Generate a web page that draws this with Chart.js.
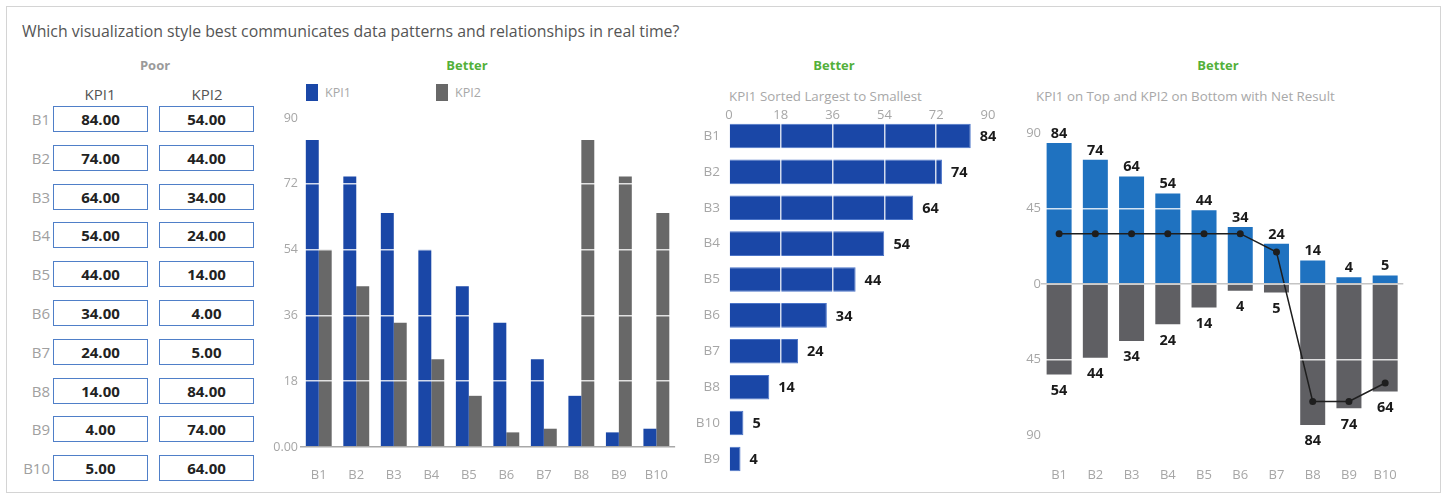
<!DOCTYPE html>
<html>
<head>
<meta charset="utf-8">
<script src="https://cdn.jsdelivr.net/npm/chart.js@4.4.1/dist/chart.umd.min.js"></script>
<style>
  body { margin: 0; background: #fff; font-family: 'Open Sans', 'Noto Sans', sans-serif; }
  #page { position: relative; width: 1447px; height: 495px; overflow: hidden; }
  #frame { position: absolute; left: 6px; top: 6px; width: 1433px; height: 485px; border: 1px solid #d4d4d4; }
  .txt { position: absolute; white-space: nowrap; }
  #title { left: 22px; top: 20px; font-size: 15.85px; color: #555; }
  .head { font-size: 13px; font-weight: bold; transform: translateX(-50%); top: 56px; }
  .poor { color: #9a9a9a; }
  .better { color: #52b03a; }
  .sub { font-size: 13.3px; color: #a8a8a8; top: 87px; }
  .cell { position: absolute; width: 93px; height: 24px; border: 1.5px solid #4f7fc8; font-size: 15px; font-weight: bold; color: #222; text-align: center; line-height: 24px; }
  .rowlab { position: absolute; font-size: 15px; color: #a0a0a0; text-align: right; width: 40px; left: 10px; }
  .colhead { position: absolute; font-size: 15px; color: #555; transform: translateX(-50%); top: 84px; }
  .leg { position: absolute; top: 84px; font-size: 12.5px; color: #a8a8a8; }
  .leg span { display: inline-block; width: 12px; height: 17px; vertical-align: -4px; margin-right: 7px; }
  canvas { position: absolute; }
</style>
</head>
<body>
<div id="page">
  <div id="frame"></div>
  <div class="txt" id="title">Which visualization style best communicates data patterns and relationships in real time?</div>
  <div class="txt head poor" style="left:155px">Poor</div>
  <div class="txt head better" style="left:467px">Better</div>
  <div class="txt head better" style="left:834px">Better</div>
  <div class="txt head better" style="left:1218px">Better</div>
  <div class="txt sub" style="left:729px">KPI1 Sorted Largest to Smallest</div>
  <div class="txt sub" style="left:1036px">KPI1 on Top and KPI2 on Bottom with Net Result</div>
  <div id="table"></div>
  <div id="legend"></div>
  <canvas id="groupChart" width="418" height="382" style="left:270px;top:108px"></canvas>
  <canvas id="sortedChart" width="320" height="394" style="left:690px;top:100px"></canvas>
  <canvas id="netChart" width="429" height="380" style="left:1000px;top:110px"></canvas>
</div>
<script>
const categories = ['B1', 'B2', 'B3', 'B4', 'B5', 'B6', 'B7', 'B8', 'B9', 'B10'];
const kpi1 = [84, 74, 64, 54, 44, 34, 24, 14, 4, 5];
const kpi2 = [54, 44, 34, 24, 14, 4, 5, 84, 74, 64];
const sortedCategories = ['B1', 'B2', 'B3', 'B4', 'B5', 'B6', 'B7', 'B8', 'B10', 'B9'];
const sortedKpi1 = [84, 74, 64, 54, 44, 34, 24, 14, 5, 4];
const netResult = [30, 30, 30, 30, 30, 30, 19, -70, -70, -59];
const valueTicks = [0, 18, 36, 54, 72, 90];
const netTicks = [-90, -45, 0, 45, 90];

const DARK_BLUE = '#1a47a7';
const GRAY = '#686868';
const NET_BLUE = '#1f72c0';
const NET_GRAY = '#5f5f63';
const TICK = '#a6a6a6';
const WHITE_GRID = 'rgba(255,255,255,0.8)';

Chart.defaults.font.family = "'Open Sans', 'Noto Sans', sans-serif";
Chart.defaults.color = TICK;

// table (Poor)
const table = document.getElementById('table');
let html = '';
html += '<div class="colhead" style="left:100px">KPI1</div>';
html += '<div class="colhead" style="left:207px">KPI2</div>';
for (let i = 0; i < categories.length; i++) {
  const top = 106 + i * 38.8;
  html += `<div class="rowlab" style="top:${top + 3}px">${categories[i]}</div>`;
  html += `<div class="cell" style="left:53px;top:${top}px">${kpi1[i].toFixed(2)}</div>`;
  html += `<div class="cell" style="left:159px;top:${top}px">${kpi2[i].toFixed(2)}</div>`;
}
table.innerHTML = html;

// legend for grouped chart
document.getElementById('legend').innerHTML =
  `<div class="leg" style="left:306px"><span style="background:${DARK_BLUE}"></span>KPI1</div>` +
  `<div class="leg" style="left:436px"><span style="background:${GRAY}"></span>KPI2</div>`;

// value labels on top of everything
const valueLabels = {
  id: 'valueLabels',
  afterDraw(chart, args, opts) {
    const ctx = chart.ctx;
    ctx.save();
    ctx.font = 'bold 14.5px "Open Sans", sans-serif';
    ctx.fillStyle = '#1a1a1a';
    (opts.sets || []).forEach(set => {
      const meta = chart.getDatasetMeta(set.index);
      meta.data.forEach((el, i) => {
        const v = Math.abs(chart.data.datasets[set.index].data[i]);
        if (set.where === 'right') {
          ctx.textAlign = 'left'; ctx.textBaseline = 'middle';
          ctx.fillText(v, el.x + 9, el.y + 1);
        } else if (set.where === 'above') {
          ctx.textAlign = 'center'; ctx.textBaseline = 'bottom';
          ctx.fillText(v, el.x, el.y - 2);
        } else {
          ctx.textAlign = 'center'; ctx.textBaseline = 'top';
          ctx.fillText(v, el.x, el.y + 9);
        }
      });
    });
    // top axis numbers sit partly inside the plot, so draw them here (tick labels get clipped)
    if (opts.topTicks) {
      const sc = chart.scales.x;
      ctx.font = '13px "Open Sans", sans-serif';
      ctx.fillStyle = TICK;
      ctx.textAlign = 'center'; ctx.textBaseline = 'middle';
      opts.topTicks.forEach(v => ctx.fillText(v, sc.getPixelForValue(v), sc.bottom - 3));
    }
    ctx.restore();
  }
};

// grouped bars
new Chart(document.getElementById('groupChart'), {
  type: 'bar',
  data: {
    labels: categories,
    datasets: [
      { label: 'KPI1', data: kpi1, backgroundColor: DARK_BLUE, categoryPercentage: 0.69, barPercentage: 1 },
      { label: 'KPI2', data: kpi2, backgroundColor: GRAY, categoryPercentage: 0.69, barPercentage: 1 }
    ]
  },
  options: {
    responsive: false,
    animation: false,
    layout: { padding: { top: 10, right: 0, bottom: 0, left: 0 } },
    plugins: { legend: { display: false }, tooltip: { enabled: false } },
    scales: {
      x: {
        grid: { display: false, drawTicks: false },
        border: { display: false },
        ticks: { color: TICK, font: { size: 13 }, padding: 20 },
        afterFit(s) { s.height = 43; }
      },
      y: {
        min: 0, max: 90,
        afterBuildTicks(s) { s.ticks = valueTicks.map(v => ({ value: v })); },
        grid: { z: 1, color: c => c.tick && c.tick.value === 0 ? '#a8a8a8' : WHITE_GRID, lineWidth: 1.5, drawTicks: false },
        border: { display: false },
        ticks: { color: TICK, font: { size: 12.5 }, padding: 2, callback: v => v === 0 ? '0.00' : v },
        afterFit(s) { s.width = 30; }
      }
    }
  }
});

// sorted horizontal bars
new Chart(document.getElementById('sortedChart'), {
  type: 'bar',
  data: {
    labels: sortedCategories,
    datasets: [
      { label: 'KPI1', data: sortedKpi1, backgroundColor: DARK_BLUE, borderColor: '#4b74c8', borderWidth: 1, categoryPercentage: 0.685, barPercentage: 1 }
    ]
  },
  options: {
    indexAxis: 'y',
    responsive: false,
    animation: false,
    layout: { padding: { top: 0, right: 22, bottom: 0, left: 0 } },
    plugins: {
      legend: { display: false }, tooltip: { enabled: false },
      valueLabels: { sets: [{ index: 0, where: 'right' }], topTicks: valueTicks }
    },
    scales: {
      x: {
        position: 'top', min: 0, max: 90,
        afterBuildTicks(s) { s.ticks = valueTicks.map(v => ({ value: v })); },
        grid: { z: 1, color: c => c.tick && c.tick.value === 0 ? 'rgba(0,0,0,0)' : WHITE_GRID, lineWidth: 1.5, drawTicks: false },
        border: { display: false },
        ticks: { display: false },
        afterFit(s) { s.height = 18; }
      },
      y: {
        grid: { display: false, drawTicks: false },
        border: { display: false },
        ticks: { color: TICK, font: { size: 13.5 }, padding: 9 },
        afterFit(s) { s.width = 39; }
      }
    }
  },
  plugins: [valueLabels]
});

// diverging bars with net result
new Chart(document.getElementById('netChart'), {
  data: {
    labels: categories,
    datasets: [
      { type: 'line', label: 'Net', data: netResult, borderColor: '#1e1e1e', borderWidth: 1.5, pointRadius: 3.5, pointBackgroundColor: '#1e1e1e', pointBorderWidth: 0, stack: 'net', order: 0 },
      { type: 'bar', label: 'KPI1', data: kpi1, backgroundColor: NET_BLUE, categoryPercentage: 0.69, barPercentage: 1, stack: 'kpi', order: 1 },
      { type: 'bar', label: 'KPI2', data: kpi2.map(v => -v), backgroundColor: NET_GRAY, categoryPercentage: 0.69, barPercentage: 1, stack: 'kpi', order: 1 }
    ]
  },
  options: {
    responsive: false,
    animation: false,
    layout: { padding: { top: 23, right: 0, bottom: 0, left: 0 } },
    plugins: {
      legend: { display: false }, tooltip: { enabled: false },
      valueLabels: { sets: [{ index: 1, where: 'above' }, { index: 2, where: 'below' }] }
    },
    scales: {
      x: {
        stacked: true,
        grid: { display: false, drawTicks: false },
        border: { display: false },
        ticks: { color: TICK, font: { size: 13 }, padding: 32 },
        afterFit(s) { s.height = 55; }
      },
      y: {
        stacked: true, min: -90, max: 90,
        afterBuildTicks(s) { s.ticks = netTicks.map(v => ({ value: v })); },
        grid: {
          z: 1,
          color: c => {
            if (!c.tick) return WHITE_GRID;
            if (c.tick.value === 0) return '#c4c4c4';
            if (Math.abs(c.tick.value) === 90) return 'rgba(0,0,0,0)';
            return WHITE_GRID;
          },
          lineWidth: 1.5, drawTicks: false
        },
        border: { display: false },
        ticks: { color: TICK, font: { size: 13 }, padding: 0, callback: v => Math.abs(v) },
        afterFit(s) { s.width = 41; }
      }
    }
  },
  plugins: [valueLabels]
});
</script>
</body>
</html>
